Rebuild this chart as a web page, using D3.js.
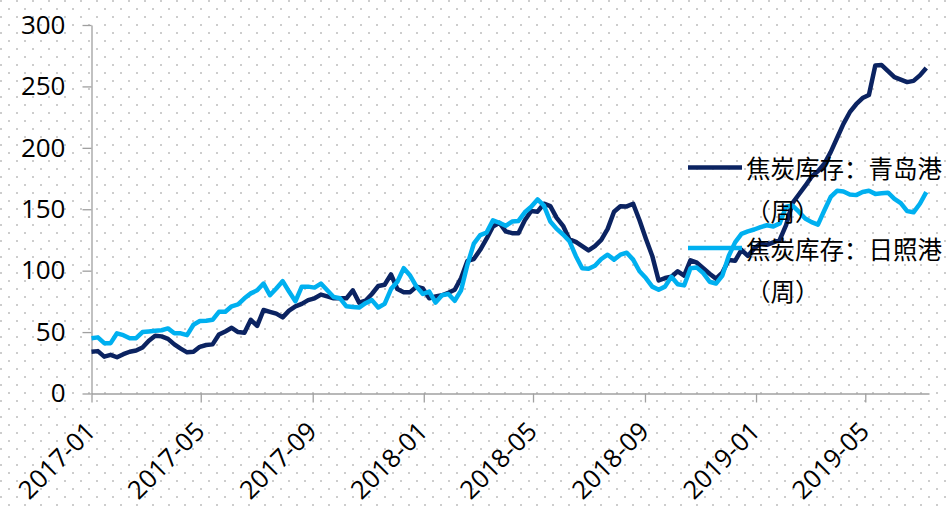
<!DOCTYPE html>
<html><head><meta charset="utf-8">
<script src="https://cdn.jsdelivr.net/npm/d3@7"></script>
<style>html,body{margin:0;padding:0;background:#fff;} svg{display:block;}</style>
</head><body>
<svg id="chart" width="949" height="508"></svg>
<script>
// ---- data ----
const legendLabels = [["焦炭库存：青岛港", "（周）"], ["焦炭库存：日照港", "（周）"]];
const startDate = "2017-01-01";   // first weekly observation
const axisEndDate = "2019-07-10";
const xTickLabels = ["2017-01", "2017-05", "2017-09", "2018-01", "2018-05", "2018-09", "2019-01", "2019-05"];
const yTickValues = [0, 50, 100, 150, 200, 250, 300];

const qingdao = [
  34, 34.5, 30, 31.5, 29.5, 32, 34, 35, 37.5, 43,
  47, 46.5, 44.5, 40, 36.5, 33.5, 34, 38, 39.5, 40,
  48, 50.5, 53.5, 50, 49.5, 60, 55, 68, 66.5, 65,
  62, 67.5, 71, 73, 76, 77.5, 80.5, 79, 77.5, 77.5,
  77.5, 84, 74, 75.5, 81, 87.5, 88.5, 97, 85, 82.5,
  82.5, 87, 85.5, 77.5, 79, 80, 82, 84.5, 94, 108,
  109.5, 117, 126, 136, 139, 132, 130.5, 130.5, 141, 148.5,
  148, 154.5, 152.5, 143, 136.5, 125.5, 123.5, 120, 116.5, 120,
  125, 134, 148, 152.5, 152.3, 154.5, 141, 126, 112, 92,
  94, 95, 99.5, 96, 108.5, 106.5, 102, 97.5, 93.5, 98.5,
  108.7, 108, 117, 112, 118, 122, 121, 123, 125, 137,
  155, 162, 169, 176.5, 181, 187, 196.5, 208, 219.5, 229,
  235.5, 240.5, 243, 267, 267.4, 262.5, 257.5, 255.5, 253.5, 254.5,
  259, 265
];
const rizhao = [
  45, 45.7, 41, 41, 49, 47.5, 45, 45, 50, 50.5,
  51, 51.5, 53, 49, 49, 47.5, 56, 59, 59.3, 60,
  66.5, 66.5, 71, 72.5, 77.5, 81.5, 84, 89.5, 80, 85.5,
  91.5, 83, 75, 87, 87, 86.2, 89.5, 84, 78.5, 77.5,
  71, 70.5, 70, 73.5, 76, 70, 73, 85, 91, 102,
  96, 87, 81, 83, 74, 80, 81, 75.5, 84, 105,
  122, 129, 131, 141, 139, 136.5, 140, 140.5, 147.5, 152,
  158, 153, 140, 134, 129.5, 124, 112, 102, 101.5, 104,
  109.5, 113, 109, 113, 114.6, 109, 99.5, 94, 87, 84.5,
  87, 95, 89, 88, 102, 102.5, 98, 91, 89.5, 96,
  112, 123, 130, 132, 133.5, 135.5, 137, 136, 138.5, 152,
  153, 148, 142.5, 139.5, 137.5, 149, 160, 165, 164.5, 162,
  161.5, 164, 165, 162.5, 163, 163.5, 158.5, 155, 148.5, 147.5,
  154.5, 164
];

// ---- chart ----
const svg = d3.select("#chart");
const W = 949, H = 508;
const parse = d3.timeParse("%Y-%m-%d");
const t0 = parse(startDate);
const weekDates = qingdao.map((_, i) => d3.timeDay.offset(t0, 7 * i));

const x = d3.scaleTime().domain([t0, parse(axisEndDate)]).range([91.5, 929]);
const y = d3.scaleLinear().domain([0, 300]).range([393.5, 25]);

// dotted background
const defs = svg.append("defs");
const pat = defs.append("pattern").attr("id", "dots").attr("patternUnits", "userSpaceOnUse")
  .attr("width", 16).attr("height", 16);
pat.append("rect").attr("x", 0).attr("y", 0).attr("width", 2).attr("height", 2).attr("fill", "#cdcdcd");
pat.append("rect").attr("x", 8).attr("y", 8).attr("width", 2).attr("height", 2).attr("fill", "#cdcdcd");
svg.append("rect").attr("width", W).attr("height", H).attr("fill", "#fff");
svg.append("rect").attr("width", W).attr("height", H).attr("fill", "url(#dots)");

const font = "'Open Sans', 'Noto Sans CJK SC', sans-serif";
const axisColor = "#a0a0a0";

// y axis
const gy = svg.append("g").attr("transform", "translate(91.5,0)")
  .call(d3.axisLeft(y).tickValues(yTickValues).tickSize(9).tickPadding(17).tickSizeOuter(0));
gy.select(".domain").attr("stroke", axisColor).attr("stroke-width", 1.3);
gy.selectAll(".tick line").attr("stroke", axisColor).attr("stroke-width", 1.3);
gy.selectAll(".tick text").attr("fill", "#000").style("font-family", font).style("font-size", "26px");

// x axis
const xTickDates = xTickLabels.map(s => parse(s + "-01"));
const gx = svg.append("g").attr("transform", "translate(0,393.5)")
  .call(d3.axisBottom(x).tickValues(xTickDates).tickSize(9).tickSizeOuter(0)
    .tickFormat((d, i) => xTickLabels[i]));
gx.select(".domain").attr("stroke", axisColor).attr("stroke-width", 1.3);
gx.selectAll(".tick line").attr("stroke", axisColor).attr("stroke-width", 1.3);
gx.selectAll(".tick text")
  .attr("x", 0).attr("y", 0).attr("dy", 0)
  .attr("transform", "translate(5,39.5) rotate(-45)")
  .style("text-anchor", "end")
  .attr("fill", "#000").style("font-family", font).style("font-size", "25.5px");

// lines
const colors = ["#0b2361", "#00b0f0"];
const series = [qingdao, rizhao];
const line = d3.line().x((d, i) => x(weekDates[i])).y(d => y(d));
series.forEach((s, k) => {
  svg.append("path").datum(s).attr("d", line)
    .attr("fill", "none").attr("stroke", colors[k]).attr("stroke-width", 4.5)
    .attr("stroke-linejoin", "round").attr("stroke-linecap", "butt");
});

// legend
const legY = [167.5, 248];
legendLabels.forEach((lab, k) => {
  const g = svg.append("g");
  g.append("line").attr("x1", 688).attr("x2", 742).attr("y1", legY[k]).attr("y2", legY[k])
    .attr("stroke", colors[k]).attr("stroke-width", 4.5);
  lab.forEach((t, j) => {
    g.append("text").attr("x", 746).attr("y", legY[k] + j * 42.5)
      .attr("dominant-baseline", "central")
      .style("font-family", "'Noto Sans CJK SC', sans-serif").style("font-size", "24.5px")
      .attr("fill", "#000").text(t);
  });
});
</script>
</body></html>
